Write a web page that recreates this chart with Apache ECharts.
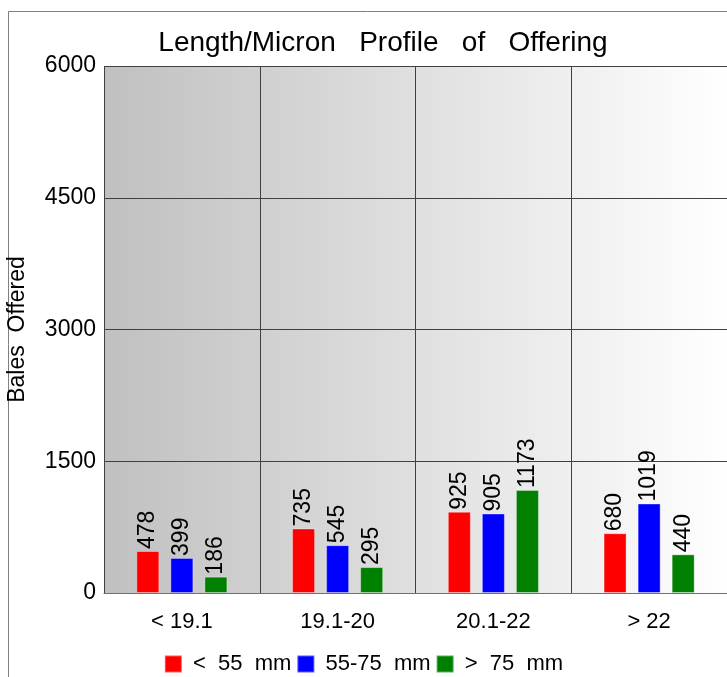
<!DOCTYPE html>
<html>
<head>
<meta charset="utf-8">
<script src="https://cdn.jsdelivr.net/npm/echarts@6/dist/echarts.min.js"></script>
<style>
  html, body { margin: 0; padding: 0; background: #fff; }
  #chart { width: 727px; height: 677px; }
</style>
</head>
<body>
<div id="chart"></div>
<script>
// micron ranges on the x axis
const categories = ['< 19.1', '19.1-20', '20.1-22', '> 22']
// bales per length class
const under55 = [478, 735, 925, 680]
const mid55to75 = [399, 545, 905, 1019]
const over75 = [186, 295, 1173, 440]
const yTicks = [0, 1500, 3000, 4500, 6000]

const font = 'Liberation Sans, Arial, sans-serif'
// the original uses very wide word spaces
const wide = s => s.replace(/ /g, '  ')

function barSeries(name, data, color) {
  return {
    name: name,
    type: 'bar',
    data: data,
    barWidth: 23,
    barGap: '48%',
    itemStyle: { color: color, borderColor: 'rgba(255,255,255,0.35)', borderWidth: 1 },
    label: {
      show: true,
      position: 'top',
      rotate: 90,
      align: 'left',
      verticalAlign: 'middle',
      distance: 2,
      color: '#000',
      fontSize: 23,
      fontFamily: font
    }
  }
}

let option = {
  animation: false,
  backgroundColor: '#fff',
  title: {
    text: 'Length/Micron   Profile   of   Offering',
    left: 378,
    top: 24,
    textAlign: 'center',
    textStyle: { fontSize: 28, fontWeight: 'normal', color: '#000', fontFamily: font }
  },
  legend: {
    top: 648,
    left: 'center',
    itemWidth: 17,
    itemHeight: 17,
    itemGap: 5,
    icon: 'rect',
    formatter: name => ' ' + wide(name),
    textStyle: { fontSize: 22, color: '#000', fontFamily: font },
    data: ['< 55 mm', '55-75 mm', '> 75 mm']
  },
  grid: {
    left: 104,
    right: 0,
    top: 66,
    bottom: 84,
    outerBoundsMode: 'none',
    containLabel: false,
    show: true,
    borderWidth: 0,
    backgroundColor: new echarts.graphic.LinearGradient(0, 0, 1, 0, [
      { offset: 0, color: '#c0c0c0' },
      { offset: 1, color: '#ffffff' }
    ])
  },
  xAxis: {
    type: 'category',
    data: categories,
    axisTick: { show: false },
    axisLine: { lineStyle: { color: '#707070' } },
    axisLabel: { fontSize: 22, color: '#000', fontFamily: font, margin: 18 },
    splitLine: { show: true, lineStyle: { color: '#404040', width: 1 } }
  },
  yAxis: {
    type: 'value',
    min: yTicks[0],
    max: yTicks[yTicks.length - 1],
    interval: 1500,
    name: wide('Bales Offered'),
    nameLocation: 'middle',
    nameGap: 75,
    nameTextStyle: { fontSize: 23, color: '#000', fontFamily: font },
    axisLine: { show: false },
    axisTick: { show: false },
    axisLabel: { fontSize: 23, color: '#000', fontFamily: font, margin: 8, formatter: v => String(v) },
    splitLine: { lineStyle: { color: '#404040', width: 1 } }
  },
  graphic: [{
    type: 'polyline',
    shape: { points: [[8.5, 677], [8.5, 11.5], [727, 11.5]] },
    style: { stroke: '#808080', lineWidth: 1, fill: null },
    z: 0
  }],
  series: [
    barSeries('< 55 mm', under55, '#ff0000'),
    barSeries('55-75 mm', mid55to75, '#0000ff'),
    barSeries('> 75 mm', over75, '#008000')
  ]
}

let myChart = echarts.init(document.getElementById('chart'))
myChart.setOption(option)
</script>
</body>
</html>
